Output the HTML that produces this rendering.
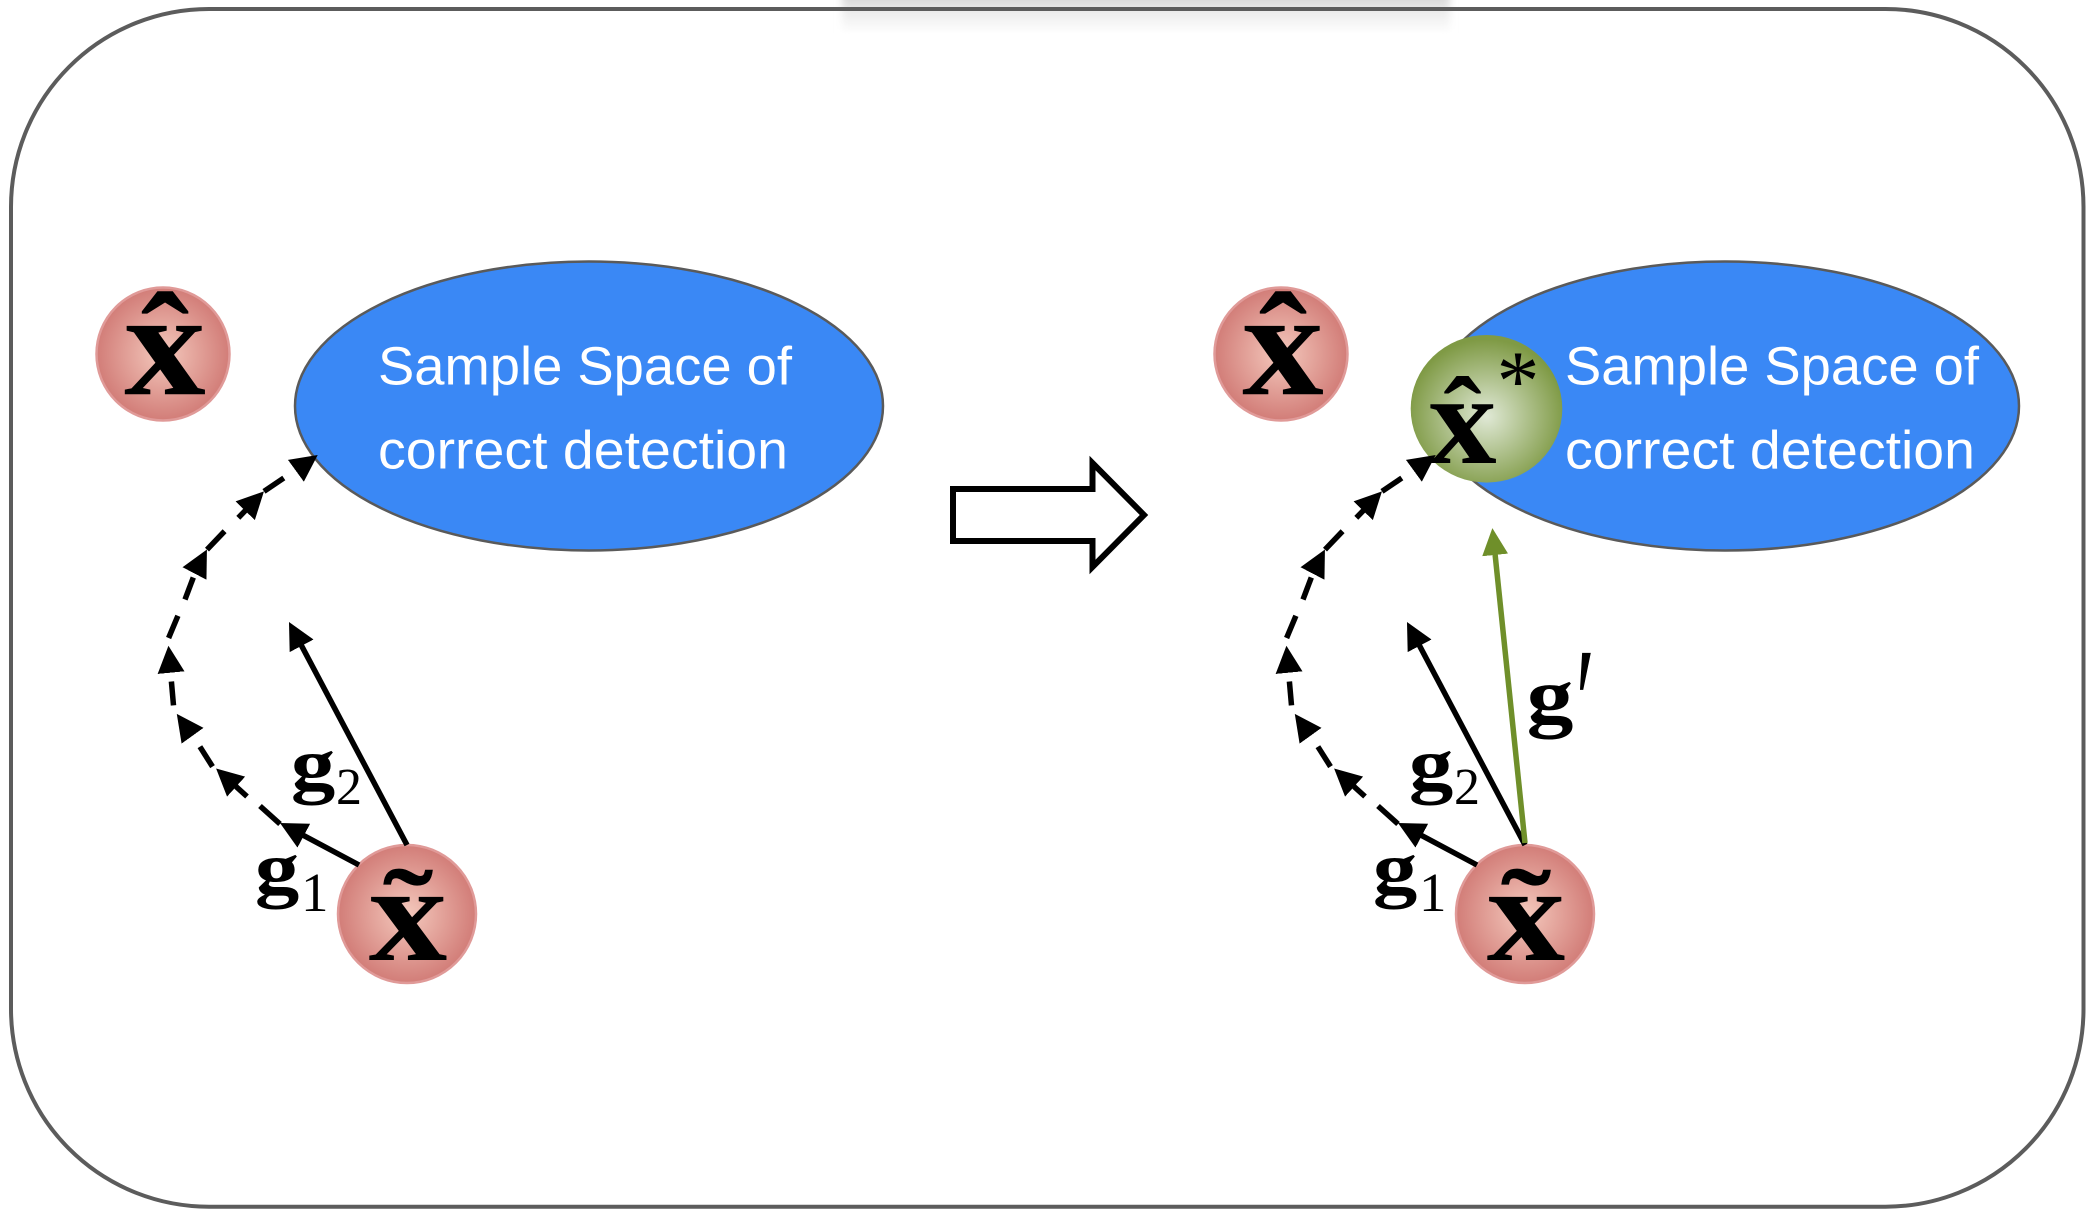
<!DOCTYPE html>
<html><head><meta charset="utf-8"><style>
html,body{margin:0;padding:0;background:#fff;width:2096px;height:1216px;overflow:hidden}
svg{display:block}
.x{font-family:"Liberation Serif",serif;font-weight:bold;text-anchor:middle}
.r{font-family:"Liberation Serif",serif}
.w{font-family:"Liberation Sans",sans-serif;font-size:54px;fill:#fff}
</style></head><body>
<svg width="2096" height="1216" viewBox="0 0 2096 1216" xmlns="http://www.w3.org/2000/svg">
<defs>
<radialGradient id="p"><stop offset="0" stop-color="#f4c9bd"/><stop offset="1" stop-color="#d27d78"/></radialGradient>
<radialGradient id="gr" cx="0.5" cy="0.55" r="0.52"><stop offset="0" stop-color="#e0e9d6"/><stop offset="1" stop-color="#7f9a45"/></radialGradient>
<linearGradient id="sh" x1="0" y1="0" x2="0" y2="1"><stop offset="0" stop-color="#dcdcdc"/><stop offset="0.4" stop-color="#eeeeee"/><stop offset="1" stop-color="#fff"/></linearGradient>
<filter id="bl" x="-3%" y="0" width="106%" height="100%"><feGaussianBlur stdDeviation="4 0"/></filter>
<marker id="a" markerUnits="userSpaceOnUse" markerWidth="30" markerHeight="30" refX="15" refY="14" orient="auto"><path d="M0 0.500L27 14L0 27.500Z" fill="#000"/></marker>
<marker id="ag" markerUnits="userSpaceOnUse" markerWidth="30" markerHeight="30" refX="15" refY="14" orient="auto"><path d="M0 1L27 14L0 27Z" fill="#6f8f2a"/></marker>
<g id="c" fill="none" stroke="#000" stroke-width="5.500">
<path d="M359 865L290.600 828.600" marker-end="url(#a)"/>
<path d="M407 845L294.600 632.600" marker-end="url(#a)"/>
<path d="M260 806L280 824"/>
<path d="M247 796.500L225 776.600" marker-end="url(#a)"/>
<path d="M212.500 766.600L199.900 746.700"/>
<path d="M192 735L183.800 723.600" marker-end="url(#a)"/>
<path d="M173.500 705.400L171.400 681.500"/>
<path d="M171 672L169.600 657.700" marker-end="url(#a)"/>
<path d="M168.600 638L177.900 615.800"/>
<path d="M185 599.500L193.300 577.500"/>
<path d="M195 572.500L201.400 560.200" marker-end="url(#a)"/>
<path d="M207 549.600L224.600 531.200"/>
<path d="M238.300 517.800L255.600 500" marker-end="url(#a)"/>
<path d="M264 491.400L283.800 478"/>
<path d="M297 470L308 462" marker-end="url(#a)"/>
</g>
</defs>
<rect x="842" y="0" width="608" height="34" fill="url(#sh)" filter="url(#bl)"/>
<rect x="11" y="9" width="2072.500" height="1197.700" rx="198" ry="198" fill="none" stroke="#5c5c5c" stroke-width="4"/>

<!-- left ellipse -->
<ellipse cx="589" cy="406" rx="294" ry="144.500" fill="#3a88f5" stroke="#5a5a5a" stroke-width="2.500"/>
<text class="w" x="378" y="384.300" textLength="414" lengthAdjust="spacingAndGlyphs">Sample Space of</text>
<text class="w" x="378" y="468.300" textLength="410" lengthAdjust="spacingAndGlyphs">correct detection</text>

<!-- left hat circle -->
<circle cx="163" cy="354" r="66.500" fill="url(#p)" stroke="#e09a98" stroke-width="2.500"/>
<text class="x" font-size="142" transform="translate(165 394.300) scale(1.15 1.05)">x</text>
<text class="x" font-size="140" transform="translate(165 390) scale(1.05 1)">ˆ</text>

<!-- left tilde circle -->
<circle cx="407" cy="914" r="69" fill="url(#p)" stroke="#e09a98" stroke-width="2.500"/>
<text class="x" font-size="131" transform="translate(408 960) scale(1.2 1.05)">x</text>
<text class="x" font-size="150" transform="translate(408 948) scale(1 .76)">˜</text>

<use href="#c"/>
<text class="x" font-size="74" transform="translate(277 893) scale(1.2 1)">g</text>
<text class="r" font-size="55" x="301" y="911">1</text>
<text class="x" font-size="74" transform="translate(313 789) scale(1.2 1)">g</text>
<text class="r" font-size="52" x="336" y="804">2</text>

<!-- block arrow -->
<path d="M953 489H1092.500V463L1144 515L1092.500 567V541H953Z" fill="#fff" stroke="#000" stroke-width="6"/>

<!-- right ellipse -->
<ellipse cx="1725" cy="406" rx="294" ry="144.500" fill="#3a88f5" stroke="#5a5a5a" stroke-width="2.500"/>
<text class="w" x="1565" y="384.300" textLength="414" lengthAdjust="spacingAndGlyphs">Sample Space of</text>
<text class="w" x="1565" y="468.300" textLength="410" lengthAdjust="spacingAndGlyphs">correct detection</text>

<circle cx="1281" cy="354" r="66.500" fill="url(#p)" stroke="#e09a98" stroke-width="2.500"/>
<text class="x" font-size="142" transform="translate(1283 394.300) scale(1.15 1.05)">x</text>
<text class="x" font-size="140" transform="translate(1283 390) scale(1.05 1)">ˆ</text>

<!-- green circle -->
<ellipse cx="1486.500" cy="408.800" rx="75.800" ry="73.800" fill="url(#gr)"/>
<text class="x" font-size="122" transform="translate(1462.500 463) scale(1.12 1.05)">x</text>
<text class="x" font-size="110" transform="translate(1462.500 454) scale(1.05 1)">ˆ</text>
<text class="r" font-size="86" x="1518" y="410" text-anchor="middle">*</text>

<circle cx="1525" cy="914" r="69" fill="url(#p)" stroke="#e09a98" stroke-width="2.500"/>
<text class="x" font-size="131" transform="translate(1526 960) scale(1.2 1.05)">x</text>
<text class="x" font-size="150" transform="translate(1526 948) scale(1 .76)">˜</text>

<use href="#c" x="1118"/>
<path d="M1525 843L1493.600 540" fill="none" stroke="#6f8f2a" stroke-width="5.500" marker-end="url(#ag)"/>
<text class="x" font-size="78" transform="translate(1550 722) scale(1.2 1)">g</text>
<text class="r" font-size="90" font-style="italic" transform="translate(1570 756) scale(1 1.75)">′</text>
<text class="x" font-size="74" transform="translate(1395 893) scale(1.2 1)">g</text>
<text class="r" font-size="55" x="1419" y="911">1</text>
<text class="x" font-size="74" transform="translate(1431 789) scale(1.2 1)">g</text>
<text class="r" font-size="52" x="1454" y="804">2</text>
</svg>
</body></html>
